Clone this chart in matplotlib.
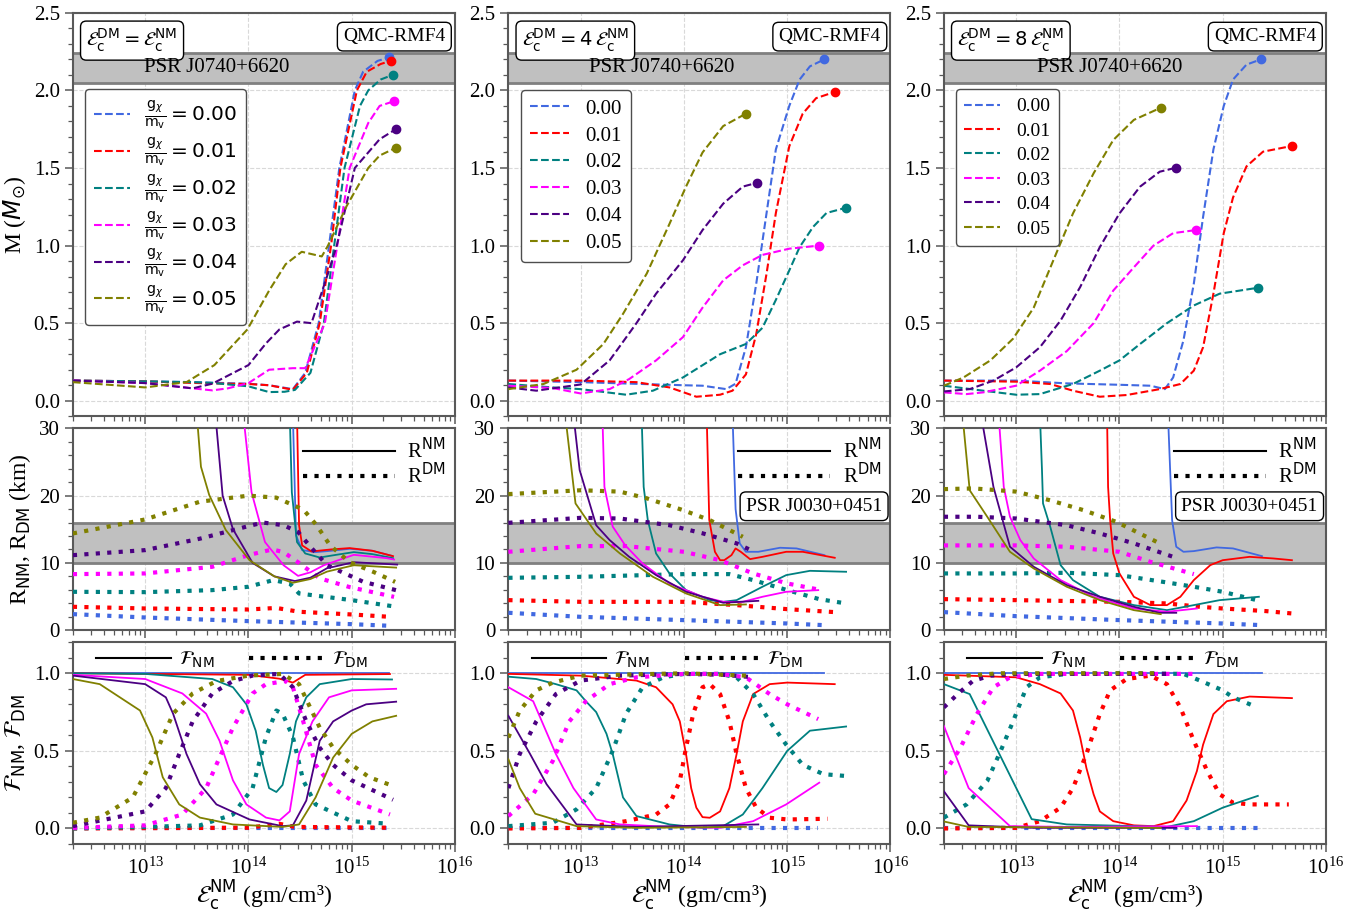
import numpy as np
import matplotlib
matplotlib.use('Agg')
import matplotlib.pyplot as plt
from matplotlib.lines import Line2D
from matplotlib.ticker import MultipleLocator, LogLocator, NullFormatter

plt.rcParams['font.family'] = ['Liberation Serif', 'DejaVu Sans']
plt.rcParams['mathtext.fontset'] = 'dejavusans'

COUPLINGS = ['0.00', '0.01', '0.02', '0.03', '0.04', '0.05']
COLORS = ['royalblue', 'red', 'teal', 'magenta', 'indigo', 'olive']
SCALE_LABELS = [r'$\mathcal{E}_{\rm c}^{\rm DM} = \mathcal{E}_{\rm c}^{\rm NM}$',
                r'$\mathcal{E}_{\rm c}^{\rm DM} = 4\,\mathcal{E}_{\rm c}^{\rm NM}$',
                r'$\mathcal{E}_{\rm c}^{\rm DM} = 8\,\mathcal{E}_{\rm c}^{\rm NM}$']

# all x values are log10 of the NM central energy density (gm/cm^3)

# ---------------- column 1: eps_DM = eps_NM ----------------
M1_LG = [
    [12.30, 13.00, 13.46, 14.00, 14.20, 14.43, 14.55, 14.68, 14.78, 14.88, 15.03, 15.11, 15.25, 15.365],
    [12.30, 13.00, 13.46, 13.80, 14.00, 14.20, 14.43, 14.565, 14.69, 14.80, 14.89, 15.05, 15.145, 15.28, 15.377],
    [12.30, 13.00, 13.46, 13.65, 14.00, 14.20, 14.35, 14.45, 14.60, 14.73, 14.83, 14.93, 15.08, 15.16, 15.28, 15.397],
    [12.30, 13.00, 13.46, 13.65, 13.80, 14.00, 14.20, 14.43, 14.55, 14.74, 14.86, 14.98, 15.16, 15.27, 15.413],
    [12.30, 13.00, 13.46, 13.65, 14.00, 14.17, 14.30, 14.47, 14.61, 14.77, 14.855, 15.03, 15.27, 15.432],
    [12.30, 13.00, 13.40, 13.67, 13.99, 14.20, 14.36, 14.516, 14.71, 14.77, 14.95, 15.16, 15.27, 15.43],
]
M1 = [
    [0.13, 0.125, 0.12, 0.11, 0.10, 0.075, 0.18, 0.50, 1.00, 1.50, 2.00, 2.12, 2.19, 2.213],
    [0.13, 0.125, 0.115, 0.11, 0.108, 0.10, 0.071, 0.18, 0.50, 1.00, 1.50, 2.00, 2.12, 2.17, 2.19],
    [0.13, 0.125, 0.12, 0.115, 0.093, 0.056, 0.058, 0.07, 0.18, 0.50, 1.00, 1.50, 1.90, 2.00, 2.07, 2.10],
    [0.13, 0.114, 0.08, 0.067, 0.08, 0.114, 0.20, 0.21, 0.21, 0.50, 1.00, 1.50, 1.79, 1.90, 1.931],
    [0.13, 0.114, 0.08, 0.11, 0.23, 0.37, 0.46, 0.51, 0.50, 0.82, 1.00, 1.50, 1.685, 1.752],
    [0.12, 0.086, 0.12, 0.23, 0.46, 0.71, 0.88, 0.96, 0.93, 1.00, 1.254, 1.50, 1.58, 1.631],
]
RNM1_LG = [
    [14.43, 14.46, 14.52, 14.65, 14.80, 14.98, 15.20, 15.39],
    [14.47, 14.49, 14.52, 14.61, 14.80, 14.98, 15.20, 15.40],
    [14.40, 14.42, 14.47, 14.55, 14.69, 14.85, 15.02, 15.20, 15.40],
    [13.95, 14.03, 14.16, 14.34, 14.48, 14.60, 14.73, 15.02, 15.34, 15.41],
    [13.68, 13.75, 13.85, 14.04, 14.25, 14.45, 14.60, 14.76, 15.02, 15.44],
    [13.50, 13.54, 13.62, 13.78, 14.01, 14.25, 14.43, 14.60, 14.76, 15.02, 15.43],
]
RNM1 = [
    [32, 14.1, 11.9, 11.6, 11.8, 12.1, 11.8, 11.04],
    [32, 15.6, 12.6, 11.7, 12.0, 12.2, 11.8, 11.0],
    [32, 20.5, 13.1, 11.4, 10.8, 11.2, 11.6, 11.3, 10.7],
    [32, 20.5, 13.1, 9.65, 8.07, 8.6, 9.65, 11.2, 10.7, 10.5],
    [32, 20.0, 15.0, 10.0, 8.0, 7.3, 7.8, 9.2, 10.1, 9.75],
    [32, 24.3, 20.1, 14.9, 10.4, 8.0, 7.04, 7.6, 8.7, 9.65, 9.3],
]
RDM1_LG = [
    [12.30, 13.00, 14.00, 15.00, 15.36],
    [12.30, 13.00, 14.00, 14.27, 14.49, 15.00, 15.37],
    [12.30, 13.00, 13.65, 14.00, 14.24, 14.40, 14.49, 15.00, 15.39],
    [12.30, 13.00, 13.65, 14.00, 14.23, 14.34, 14.48, 14.69, 14.98, 15.41],
    [12.30, 13.00, 13.53, 14.00, 14.14, 14.34, 14.48, 14.60, 14.76, 15.11, 15.43],
    [12.30, 13.00, 13.53, 14.00, 14.27, 14.49, 14.55, 14.66, 14.79, 14.98, 15.21, 15.42],
]
RDM1 = [
    [2.38, 1.88, 1.34, 0.89, 0.65],
    [3.47, 3.22, 3.07, 3.3, 2.73, 2.33, 1.98],
    [5.7, 5.65, 5.95, 6.45, 7.44, 6.94, 5.45, 4.46, 3.57],
    [8.33, 8.43, 9.42, 11.16, 12.0, 11.6, 10.1, 7.7, 6.4, 4.95],
    [11.15, 11.9, 13.6, 15.47, 16.0, 15.6, 14.6, 12.4, 9.65, 7.2, 5.94],
    [14.38, 16.46, 19.1, 20.0, 19.7, 18.2, 17.6, 15.6, 12.6, 10.1, 8.66, 7.18],
]
FNM1_LG = [
    [12.30, 15.36],
    [12.30, 14.00, 14.30, 14.43, 14.55, 15.37],
    [12.30, 13.00, 13.65, 13.85, 13.98, 14.07, 14.14, 14.20, 14.27, 14.33, 14.40, 14.46, 14.56, 14.69, 15.00, 15.39],
    [12.30, 13.00, 13.36, 13.59, 13.72, 13.85, 13.98, 14.17, 14.30, 14.40, 14.49, 14.62, 14.78, 15.00, 15.43],
    [12.30, 13.00, 13.20, 13.27, 13.40, 13.53, 13.69, 14.01, 14.33, 14.43, 14.56, 14.69, 14.82, 15.00, 15.14, 15.43],
    [12.30, 12.56, 12.95, 13.07, 13.17, 13.33, 13.53, 13.85, 14.33, 14.49, 14.65, 14.82, 15.00, 15.20, 15.43],
]
FNM1 = [
    [1.0, 1.0],
    [1.0, 0.99, 0.965, 0.94, 0.99, 0.995],
    [1.0, 0.996, 0.963, 0.91, 0.80, 0.63, 0.41, 0.26, 0.235, 0.28, 0.48, 0.69, 0.845, 0.93, 0.963, 0.96],
    [0.99, 0.963, 0.87, 0.74, 0.565, 0.31, 0.155, 0.07, 0.052, 0.11, 0.48, 0.69, 0.845, 0.89, 0.90],
    [0.985, 0.93, 0.845, 0.74, 0.48, 0.285, 0.155, 0.058, 0.015, 0.02, 0.18, 0.565, 0.69, 0.76, 0.80, 0.817],
    [0.963, 0.93, 0.76, 0.586, 0.33, 0.155, 0.07, 0.026, 0.01, 0.026, 0.2, 0.457, 0.61, 0.69, 0.726],
]
FDM1_LG = [
    [12.30, 15.36],
    [12.30, 14.00, 14.30, 14.45, 15.37],
    [12.30, 13.00, 13.53, 13.85, 14.04, 14.17, 14.27, 14.33, 14.43, 14.53, 14.65, 15.00, 15.37],
    [12.30, 13.00, 13.36, 13.59, 13.72, 13.85, 14.04, 14.17, 14.36, 14.43, 14.53, 14.65, 14.82, 15.00, 15.37],
    [12.30, 13.00, 13.20, 13.33, 13.46, 13.65, 13.85, 14.04, 14.30, 14.43, 14.56, 14.69, 14.82, 15.00, 15.40],
    [12.30, 12.56, 12.88, 13.10, 13.27, 13.46, 13.69, 14.00, 14.33, 14.49, 14.69, 14.82, 15.00, 15.17, 15.40],
]
FDM1 = [
    [0.0, 0.0],
    [0.0, 0.005, 0.03, 0.01, 0.005],
    [0.0, 0.01, 0.02, 0.09, 0.26, 0.59, 0.76, 0.74, 0.59, 0.31, 0.155, 0.047, 0.03],
    [0.004, 0.02, 0.09, 0.26, 0.457, 0.65, 0.87, 0.93, 0.95, 0.91, 0.69, 0.41, 0.26, 0.18, 0.09],
    [0.015, 0.11, 0.26, 0.48, 0.69, 0.87, 0.95, 0.985, 0.996, 0.91, 0.69, 0.52, 0.41, 0.31, 0.185],
    [0.037, 0.07, 0.2, 0.48, 0.74, 0.87, 0.95, 0.985, 0.996, 0.93, 0.65, 0.52, 0.41, 0.33, 0.274],
]

# ---------------- column 2: eps_DM = 4 eps_NM ----------------
M2_LG = [
    [12.30, 13.00, 14.00, 14.18, 14.41, 14.50, 14.60, 14.70, 14.80, 14.89, 15.02, 15.12, 15.22, 15.36],
    [12.30, 13.00, 13.54, 13.86, 14.12, 14.35, 14.47, 14.60, 14.70, 14.80, 14.89, 15.02, 15.15, 15.28, 15.46],
    [12.30, 12.73, 13.00, 13.44, 13.70, 13.99, 14.35, 14.60, 14.76, 14.89, 15.02, 15.12, 15.25, 15.38, 15.57],
    [12.30, 12.73, 13.00, 13.28, 13.47, 13.73, 13.99, 14.18, 14.38, 14.57, 14.76, 15.02, 15.31],
    [12.30, 12.57, 13.00, 13.28, 13.54, 13.73, 13.99, 14.18, 14.38, 14.57, 14.71],
    [12.30, 12.64, 12.96, 13.22, 13.41, 13.64, 13.86, 14.02, 14.18, 14.38, 14.60],
]
M2 = [
    [0.13, 0.12, 0.10, 0.097, 0.075, 0.11, 0.345, 0.754, 1.21, 1.62, 1.90, 2.07, 2.155, 2.20],
    [0.13, 0.13, 0.12, 0.086, 0.026, 0.039, 0.065, 0.17, 0.43, 0.82, 1.21, 1.64, 1.85, 1.95, 1.99],
    [0.108, 0.086, 0.075, 0.039, 0.065, 0.15, 0.30, 0.366, 0.47, 0.65, 0.84, 0.99, 1.12, 1.21, 1.244],
    [0.097, 0.082, 0.047, 0.075, 0.14, 0.26, 0.41, 0.60, 0.776, 0.873, 0.94, 0.98, 1.0],
    [0.086, 0.065, 0.105, 0.26, 0.50, 0.69, 0.905, 1.10, 1.27, 1.38, 1.405],
    [0.075, 0.108, 0.20, 0.366, 0.56, 0.82, 1.14, 1.38, 1.60, 1.77, 1.85],
]
RNM2_LG = [
    [14.47, 14.50, 14.54, 14.60, 14.72, 14.93, 15.09, 15.36],
    [14.22, 14.245, 14.30, 14.35, 14.39, 14.46, 14.50, 14.55, 14.64, 14.76, 14.99, 15.15, 15.46],
    [13.59, 13.61, 13.65, 13.73, 13.86, 14.02, 14.25, 14.38, 14.51, 14.76, 14.99, 15.22, 15.57],
    [13.21, 13.23, 13.31, 13.43, 13.60, 13.86, 14.18, 14.38, 14.57, 14.76, 14.99, 15.30],
    [12.93, 12.99, 13.15, 13.28, 13.47, 13.73, 14.02, 14.38, 14.72],
    [12.85, 12.95, 13.15, 13.38, 13.70, 14.02, 14.35, 14.60],
]
RNM2 = [
    [32, 18.0, 12.9, 11.65, 11.65, 12.25, 12.15, 11.15],
    [32, 16.4, 11.65, 10.4, 10.4, 11.15, 12.15, 11.65, 10.56, 10.9, 11.65, 11.65, 10.76],
    [32, 21.3, 16.36, 11.4, 8.43, 5.95, 4.46, 4.21, 4.46, 6.45, 8.18, 8.82, 8.68],
    [32, 21.3, 15.4, 12.64, 9.9, 6.94, 4.96, 4.21, 4.21, 4.96, 5.7, 5.95],
    [32, 23.8, 15.6, 13.4, 10.9, 8.18, 5.7, 4.07, 4.36],
    [32, 18.84, 14.38, 11.4, 7.93, 5.45, 3.72, 3.82],
]
RDM2_LG = [
    [12.30, 13.00, 14.00, 15.00, 15.36],
    [12.30, 13.00, 14.00, 14.51, 15.00, 15.46],
    [12.30, 13.00, 14.00, 14.44, 14.67, 15.00, 15.31, 15.57],
    [12.30, 13.00, 13.44, 14.00, 14.35, 14.67, 15.00, 15.30],
    [12.30, 13.00, 13.38, 13.86, 14.18, 14.51, 14.68],
    [12.30, 13.00, 13.38, 13.64, 13.99, 14.25, 14.57],
]
RDM2 = [
    [2.58, 1.98, 1.49, 0.99, 0.74],
    [4.46, 4.21, 4.21, 3.72, 3.12, 2.68],
    [7.78, 7.93, 8.33, 8.33, 7.44, 5.95, 4.61, 3.97],
    [11.65, 12.5, 12.5, 11.65, 10.4, 8.43, 6.94, 6.05],
    [15.96, 16.7, 16.6, 15.6, 14.4, 12.9, 11.65],
    [20.23, 20.8, 20.6, 19.6, 17.85, 16.36, 13.88],
]
FNM2_LG = [
    [12.30, 15.36],
    [12.30, 13.00, 13.54, 13.73, 13.89, 13.96, 14.02, 14.07, 14.12, 14.18, 14.25, 14.35, 14.44, 14.51, 14.57, 14.67, 14.83, 15.00, 15.46],
    [12.30, 12.57, 12.76, 12.96, 13.05, 13.15, 13.25, 13.31, 13.41, 13.54, 13.86, 14.18, 14.38, 14.57, 14.76, 15.00, 15.22, 15.57],
    [12.30, 12.54, 12.76, 12.93, 13.15, 13.38, 13.86, 14.35, 14.67, 14.99, 15.31],
    [12.30, 12.51, 12.67, 12.96, 13.54, 14.72],
    [12.30, 12.41, 12.56, 12.96, 13.54, 14.60],
]
FNM2 = [
    [1.0, 1.0],
    [0.996, 0.985, 0.953, 0.91, 0.80, 0.69, 0.48, 0.26, 0.134, 0.073, 0.069, 0.11, 0.26, 0.48, 0.69, 0.866, 0.93, 0.94, 0.93],
    [0.978, 0.963, 0.93, 0.89, 0.82, 0.75, 0.61, 0.48, 0.20, 0.08, 0.026, 0.004, 0.015, 0.09, 0.26, 0.50, 0.63, 0.657],
    [0.91, 0.82, 0.48, 0.26, 0.058, 0.026, 0.01, 0.004, 0.047, 0.155, 0.295],
    [0.726, 0.48, 0.285, 0.026, 0.01, 0.026],
    [0.446, 0.26, 0.095, 0.015, 0.004, 0.01],
]
FDM2_LG = [
    [12.30, 15.30],
    [12.30, 13.00, 13.44, 13.73, 13.86, 13.96, 14.02, 14.09, 14.18, 14.25, 14.35, 14.44, 14.51, 14.60, 14.70, 14.83, 15.00, 15.39],
    [12.30, 12.73, 12.96, 13.15, 13.31, 13.44, 13.60, 13.80, 14.00, 14.35, 14.51, 14.67, 14.83, 14.99, 15.15, 15.35, 15.57],
    [12.30, 12.54, 12.73, 12.89, 13.05, 13.28, 13.54, 14.00, 14.35, 14.60, 14.83, 15.00, 15.30],
    [12.30, 12.41, 12.57, 12.76, 13.00, 13.38, 14.00, 14.38, 14.68],
    [12.30, 12.41, 12.57, 12.73, 13.00, 14.00, 14.60],
]
FDM2 = [
    [0.0, 0.0],
    [0.0, 0.004, 0.047, 0.09, 0.155, 0.306, 0.52, 0.74, 0.91, 0.93, 0.866, 0.69, 0.48, 0.26, 0.134, 0.069, 0.058, 0.0625],
    [0.015, 0.037, 0.123, 0.26, 0.50, 0.74, 0.91, 0.974, 0.996, 0.996, 0.974, 0.866, 0.69, 0.54, 0.41, 0.35, 0.338],
    [0.08, 0.22, 0.435, 0.69, 0.82, 0.93, 0.974, 0.996, 0.996, 0.974, 0.866, 0.80, 0.705],
    [0.26, 0.48, 0.69, 0.866, 0.953, 0.985, 0.996, 0.99, 0.974],
    [0.586, 0.76, 0.89, 0.94, 0.985, 1.0, 0.985],
]

# ---------------- column 3: eps_DM = 8 eps_NM ----------------
M3_LG = [
    [12.30, 13.00, 13.49, 14.00, 14.30, 14.44, 14.52, 14.62, 14.72, 14.81, 14.91, 15.01, 15.10, 15.23, 15.37],
    [12.30, 13.00, 13.33, 13.55, 13.81, 14.07, 14.39, 14.59, 14.72, 14.81, 14.91, 15.01, 15.10, 15.23, 15.39, 15.67],
    [12.30, 12.68, 13.00, 13.23, 13.55, 13.81, 14.00, 14.20, 14.46, 14.72, 14.97, 15.34],
    [12.30, 12.52, 12.68, 13.00, 13.23, 13.49, 13.75, 13.94, 14.14, 14.33, 14.52, 14.74],
    [12.30, 12.55, 12.78, 13.00, 13.23, 13.43, 13.62, 13.81, 14.00, 14.20, 14.39, 14.55],
    [12.30, 12.49, 12.75, 12.97, 13.17, 13.36, 13.55, 13.75, 13.94, 14.14, 14.40],
]
M3 = [
    [0.13, 0.13, 0.112, 0.103, 0.097, 0.075, 0.15, 0.39, 0.754, 1.185, 1.62, 1.90, 2.07, 2.166, 2.20],
    [0.13, 0.123, 0.108, 0.065, 0.026, 0.037, 0.075, 0.108, 0.194, 0.345, 0.69, 1.08, 1.31, 1.51, 1.605, 1.642],
    [0.097, 0.065, 0.039, 0.043, 0.108, 0.194, 0.26, 0.366, 0.50, 0.614, 0.69, 0.728],
    [0.054, 0.043, 0.054, 0.097, 0.194, 0.32, 0.50, 0.71, 0.86, 1.0, 1.08, 1.10],
    [0.06, 0.075, 0.13, 0.215, 0.345, 0.517, 0.733, 0.99, 1.207, 1.38, 1.476, 1.502],
    [0.097, 0.15, 0.26, 0.40, 0.60, 0.905, 1.207, 1.466, 1.68, 1.81, 1.888],
]
RNM3_LG = [
    [14.47, 14.51, 14.55, 14.62, 14.72, 14.94, 15.10, 15.38],
    [13.88, 13.89, 13.91, 13.94, 14.00, 14.14, 14.30, 14.46, 14.59, 14.72, 14.88, 15.00, 15.26, 15.49, 15.67],
    [13.23, 13.25, 13.26, 13.33, 13.43, 13.55, 13.81, 14.14, 14.46, 14.72, 14.97, 15.35],
    [12.83, 12.88, 12.94, 13.04, 13.17, 13.43, 13.75, 14.14, 14.46, 14.75],
    [12.66, 12.78, 12.94, 13.17, 13.49, 13.81, 14.14, 14.39, 14.55],
    [12.48, 12.55, 12.72, 12.94, 13.17, 13.49, 13.81, 14.14, 14.40],
]
RNM3 = [
    [32, 16.36, 12.4, 11.65, 11.75, 12.3, 12.15, 11.0],
    [32, 21.3, 16.36, 11.4, 8.43, 4.96, 3.72, 3.72, 4.96, 7.44, 9.67, 10.4, 10.9, 10.66, 10.4],
    [32, 23.8, 18.84, 15.37, 9.67, 7.44, 4.96, 3.72, 2.97, 3.72, 4.46, 4.96],
    [32, 21.3, 16.86, 13.4, 10.66, 7.44, 4.96, 3.22, 2.73, 3.22],
    [32, 21.3, 12.4, 9.42, 6.69, 4.96, 3.47, 2.58, 2.58],
    [32, 20.8, 16.86, 11.65, 9.17, 6.45, 4.46, 2.97, 2.38],
]
RDM3_LG = [
    [12.30, 13.00, 14.00, 15.00, 15.38],
    [12.30, 13.00, 14.00, 14.46, 14.78, 15.00, 15.42, 15.67],
    [12.30, 13.00, 13.49, 14.00, 14.46, 14.72, 15.00, 15.33],
    [12.30, 13.00, 13.49, 14.00, 14.30, 14.72],
    [12.30, 12.62, 13.00, 13.49, 13.81, 14.14, 14.52],
    [12.30, 12.59, 13.00, 13.33, 13.65, 13.97, 14.39],
]
RDM3 = [
    [2.68, 2.08, 1.49, 0.99, 0.74],
    [4.61, 4.46, 4.21, 3.97, 3.47, 3.22, 2.83, 2.48],
    [8.43, 8.43, 8.53, 8.18, 7.09, 6.45, 5.7, 4.46],
    [12.6, 12.6, 12.4, 11.65, 10.16, 8.33],
    [16.86, 16.86, 16.6, 15.6, 14.38, 12.9, 10.9],
    [20.97, 21.07, 20.6, 19.3, 17.85, 16.1, 12.9],
]
FNM3_LG = [
    [12.30, 15.38],
    [12.30, 13.00, 13.23, 13.43, 13.55, 13.62, 13.68, 13.75, 13.81, 13.94, 14.14, 14.33, 14.52, 14.65, 14.75, 14.81, 14.91, 15.04, 15.26, 15.67],
    [12.30, 12.55, 13.15, 13.49, 14.46, 14.72, 15.00, 15.34],
    [12.30, 12.54, 12.94, 13.49, 14.75],
    [12.30, 12.54, 13.17, 14.55],
    [12.30, 12.54, 14.40],
]
FNM3 = [
    [1.0, 1.0],
    [0.99, 0.974, 0.93, 0.87, 0.76, 0.586, 0.39, 0.22, 0.11, 0.047, 0.02, 0.015, 0.047, 0.18, 0.37, 0.54, 0.737, 0.82, 0.85, 0.84],
    [0.93, 0.866, 0.06, 0.026, 0.01, 0.047, 0.134, 0.21],
    [0.66, 0.26, 0.015, 0.01, 0.015],
    [0.24, 0.02, 0.004, 0.004],
    [0.045, 0.01, 0.004],
]
FDM3_LG = [
    [12.30, 15.38],
    [12.30, 13.00, 13.23, 13.43, 13.55, 13.68, 13.81, 13.91, 14.07, 14.30, 14.46, 14.59, 14.72, 14.85, 14.97, 15.10, 15.26, 15.64],
    [12.30, 12.52, 12.72, 12.85, 12.97, 13.10, 13.23, 13.49, 14.00, 14.62, 14.78, 15.00, 15.10, 15.30],
    [12.30, 12.46, 12.62, 12.78, 12.94, 13.23, 14.72],
    [12.30, 12.44, 12.58, 12.75, 13.01, 14.52],
    [12.30, 12.52, 12.84, 14.40],
]
FDM3 = [
    [0.0, 0.0],
    [0.0, 0.004, 0.047, 0.134, 0.26, 0.48, 0.737, 0.89, 0.963, 0.985, 0.93, 0.78, 0.565, 0.37, 0.22, 0.166, 0.155, 0.155],
    [0.07, 0.155, 0.306, 0.50, 0.69, 0.91, 0.974, 0.996, 1.0, 0.996, 0.953, 0.89, 0.845, 0.79],
    [0.35, 0.52, 0.737, 0.91, 0.974, 0.996, 0.996],
    [0.78, 0.87, 0.95, 0.985, 0.996, 0.996],
    [0.963, 0.985, 1.0, 1.0],
]

COLUMNS = [
    (M1_LG, M1, RNM1_LG, RNM1, RDM1_LG, RDM1, FNM1_LG, FNM1, FDM1_LG, FDM1),
    (M2_LG, M2, RNM2_LG, RNM2, RDM2_LG, RDM2, FNM2_LG, FNM2, FDM2_LG, FDM2),
    (M3_LG, M3, RNM3_LG, RNM3, RDM3_LG, RDM3, FNM3_LG, FNM3, FDM3_LG, FDM3),
]
PSR_TEXT_X = [0.377, 0.40, 0.435]
LEGEND_SIZE = [14, 15, 14]

FRAME = '0.35'
BAND = '#c0c0c0'
BAND_EDGE = '#808080'
DOT = (0, (1, 1.75))


def eps(lg):
    return 10.0 ** np.asarray(lg)


def style_axis(ax):
    ax.set_xscale('log')
    ax.set_xlim(2e12, 1e16)
    ax.xaxis.set_major_locator(LogLocator(base=10, numticks=10))
    ax.xaxis.set_minor_locator(LogLocator(base=10, subs=np.arange(2, 10), numticks=20))
    ax.xaxis.set_minor_formatter(NullFormatter())
    ax.grid(True, which='major', ls='--', color='0.85', lw=0.8)
    ax.set_axisbelow(True)
    for sp in ax.spines.values():
        sp.set_color(FRAME)
        sp.set_linewidth(1.5)
    ax.tick_params(which='both', direction='out', color=FRAME, labelsize=15)
    ax.tick_params(which='major', length=6, width=1.1)
    ax.tick_params(which='minor', length=3.5, width=0.9)


def main():
    fig = plt.figure(figsize=(13.67, 9.14), dpi=100)
    gs = fig.add_gridspec(3, 3, height_ratios=[2, 1, 1], left=0.0534, right=0.970,
                          top=0.986, bottom=0.0766, wspace=0.14, hspace=0.045)

    for c, data in enumerate(COLUMNS):
        m_lg, m, rn_lg, rn, rd_lg, rd, fn_lg, fn, fd_lg, fd = data
        axm = fig.add_subplot(gs[0, c])
        axr = fig.add_subplot(gs[1, c], sharex=axm)
        axf = fig.add_subplot(gs[2, c], sharex=axm)
        for ax in (axm, axr, axf):
            style_axis(ax)

        # mass panel
        axm.axhspan(2.05, 2.24, color=BAND, zorder=1, lw=0)
        for yb in (2.05, 2.24):
            axm.axhline(yb, color=BAND_EDGE, lw=2, zorder=1.1)
        for i in range(6):
            x = eps(m_lg[i])
            lab = COUPLINGS[i]
            if c == 0:
                lab = r'$\frac{\mathrm{g}_{\chi}}{\mathrm{m}_{\mathrm{v}}} = %s$' % COUPLINGS[i]
            axm.plot(x, m[i], ls='--', color=COLORS[i], lw=1.5, label=lab, zorder=3)
            axm.plot(x[-1], m[i][-1], 'o', color=COLORS[i], ms=6, zorder=4)
        axm.set_ylim(-0.1, 2.5)
        axm.yaxis.set_major_locator(MultipleLocator(0.5))
        axm.yaxis.set_minor_locator(MultipleLocator(0.1))
        axm.text(PSR_TEXT_X[c], 2.15, 'PSR J0740+6620', transform=axm.get_yaxis_transform(),
                 ha='center', va='center', fontsize=15, zorder=5)
        axm.text(0.035, 0.965, SCALE_LABELS[c], transform=axm.transAxes, ha='left', va='top',
                 fontsize=14, bbox=dict(boxstyle='round,pad=0.3', fc='white', ec='black', lw=1))
        axm.text(0.975, 0.962, 'QMC-RMF4', transform=axm.transAxes, ha='right', va='top',
                 fontsize=14, bbox=dict(boxstyle='round,pad=0.3', fc='white', ec='black', lw=1))
        if c == 0:
            leg = axm.legend(loc='upper left', bbox_to_anchor=(0.005, 0.835), fontsize=14.5,
                             handlelength=1.8, labelspacing=0.2, handletextpad=0.7,
                             borderpad=0.45, fancybox=True, framealpha=1)
        else:
            leg = axm.legend(loc='upper left', bbox_to_anchor=(0.005, 0.835),
                             fontsize=LEGEND_SIZE[c], handlelength=1.85, labelspacing=0.35,
                             handletextpad=0.8, borderpad=0.45, fancybox=True, framealpha=1)
        leg.get_frame().set_edgecolor('0.3')

        # radius panel
        axr.axhspan(10, 16, color=BAND, zorder=1, lw=0)
        for yb in (10, 16):
            axr.axhline(yb, color=BAND_EDGE, lw=2, zorder=1.1)
        for i in range(6):
            axr.plot(eps(rn_lg[i]), rn[i], '-', color=COLORS[i], lw=1.3, zorder=3)
            axr.plot(eps(rd_lg[i]), rd[i], ls=DOT, color=COLORS[i], lw=3, zorder=3)
        axr.set_ylim(0, 30)
        axr.yaxis.set_major_locator(MultipleLocator(10))
        axr.yaxis.set_minor_locator(MultipleLocator(2))
        handles = [Line2D([], [], color='k', lw=1.5), Line2D([], [], color='k', lw=3, ls=DOT)]
        axr.legend(handles, [r'R$^{\rm NM}$', r'R$^{\rm DM}$'], loc='upper right', frameon=False,
                   fontsize=15, handlelength=4.4, handletextpad=0.6, labelspacing=0.0,
                   borderaxespad=0.05)
        if c > 0:
            axr.text(0.80, 0.614, 'PSR J0030+0451', transform=axr.transAxes, ha='center',
                     va='center', fontsize=14,
                     bbox=dict(boxstyle='round,pad=0.3', fc='white', ec='black', lw=1))

        # fraction panel
        for i in range(6):
            axf.plot(eps(fn_lg[i]), fn[i], '-', color=COLORS[i], lw=1.3, zorder=3)
            axf.plot(eps(fd_lg[i]), fd[i], ls=DOT, color=COLORS[i], lw=3, zorder=3)
        axf.set_ylim(-0.1, 1.2)
        axf.yaxis.set_major_locator(MultipleLocator(0.5))
        axf.yaxis.set_minor_locator(MultipleLocator(0.1))
        handles = [Line2D([], [], color='k', lw=1.5), Line2D([], [], color='k', lw=3, ls=DOT)]
        axf.legend(handles, [r'$\mathcal{F}_{\rm NM}$', r'$\mathcal{F}_{\rm DM}$'],
                   loc='upper left', ncol=2, frameon=False, fontsize=14, handlelength=3.85,
                   columnspacing=1.8, handletextpad=0.4, borderaxespad=0.1,
                   bbox_to_anchor=(0.035, 1.01))
        axf.set_xlabel(r'$\mathcal{E}_{\rm c}^{\rm NM}$ (gm/cm³)', fontsize=17, labelpad=0)

        plt.setp(axm.get_xticklabels(), visible=False)
        plt.setp(axr.get_xticklabels(), visible=False)

        if c == 0:
            axm.set_ylabel(r'M ($M_{\odot}$)', fontsize=17)
            axr.set_ylabel(r'R$_{\rm NM}$, R$_{\rm DM}$ (km)', fontsize=17)
            axf.set_ylabel(r'$\mathcal{F}_{\rm NM}$, $\mathcal{F}_{\rm DM}$', fontsize=17)

    fig.savefig('out.png', dpi=100)


if __name__ == '__main__':
    main()
